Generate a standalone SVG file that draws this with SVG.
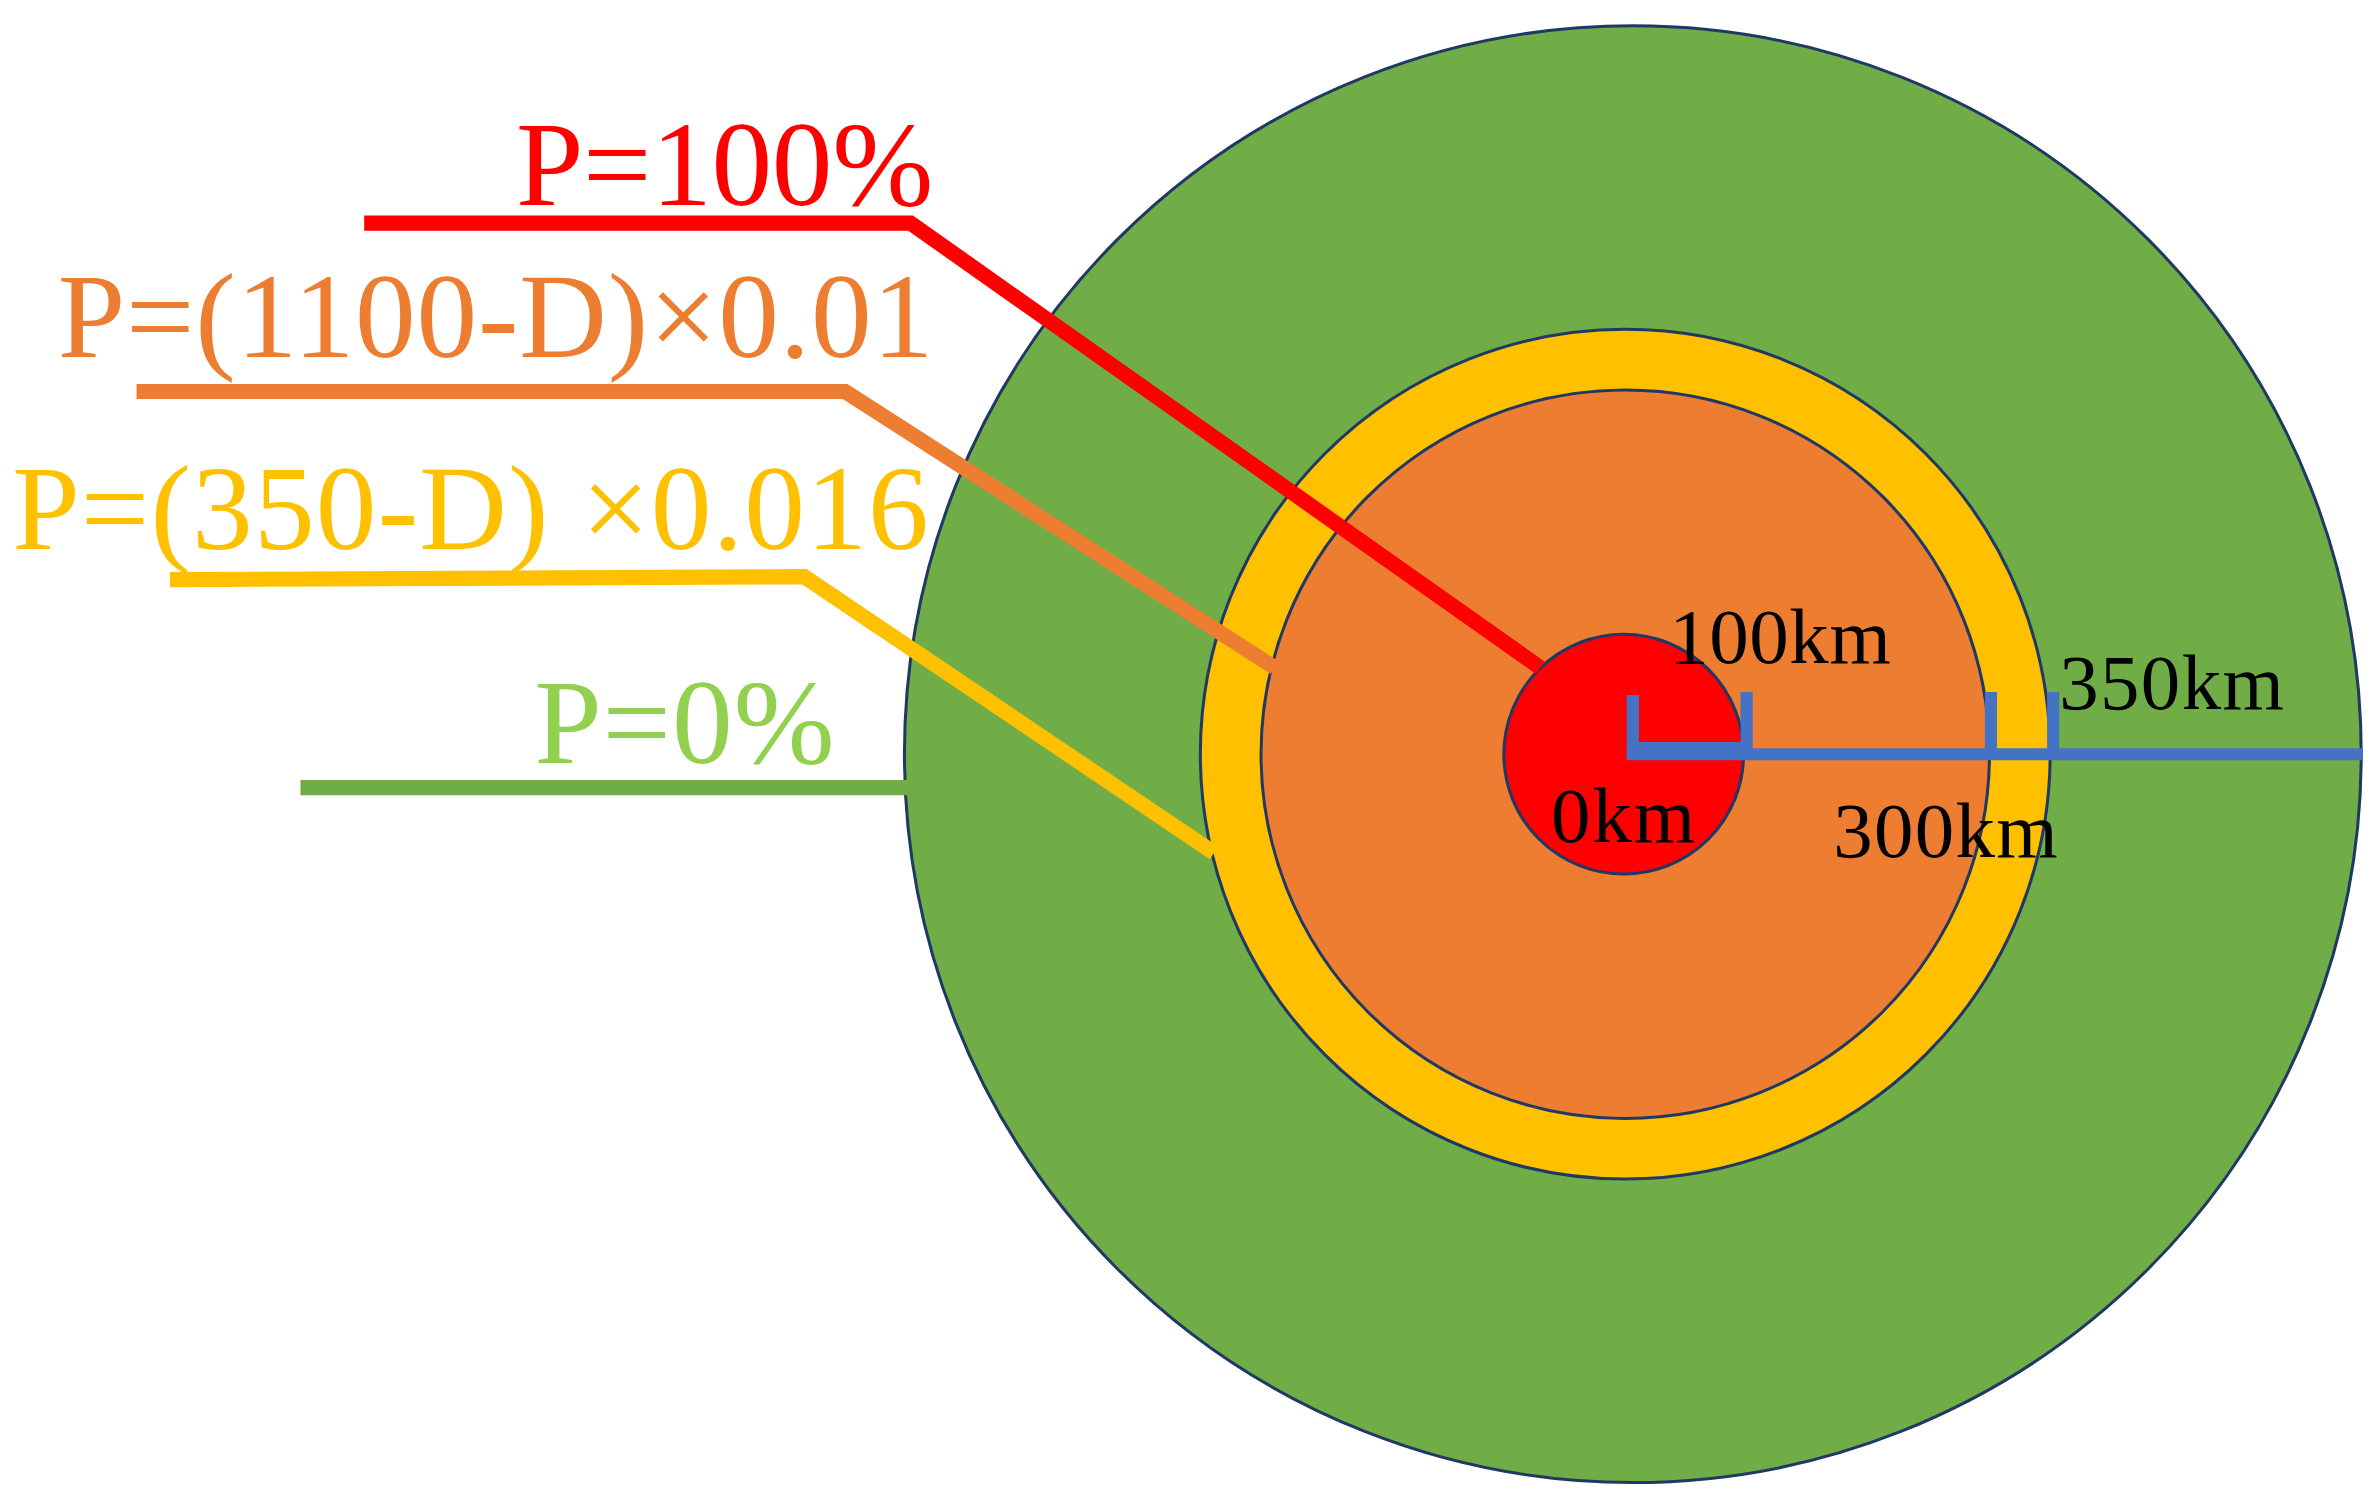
<svg xmlns="http://www.w3.org/2000/svg" width="2372" height="1507" viewBox="0 0 2372 1507">
<style>
.ring{stroke:#203864;stroke-width:2}
.lead{fill:none;stroke-width:10;stroke-linejoin:miter}
.big{font-family:"Liberation Serif",serif;font-size:80px}
.km{font-family:"Liberation Serif",serif;font-size:52px;fill:#000}
</style>
<rect width="2372" height="1507" fill="#fff"/>
<g transform="scale(1.5175)">
<g id="zone-green"><circle class="ring" cx="1076" cy="497" r="480" fill="#70AD47"/></g>
<g id="zone-yellow"><circle class="ring" cx="1071" cy="497" r="280" fill="#FFC000"/></g>
<g id="zone-orange"><circle class="ring" cx="1071" cy="497" r="240" fill="#ED7D31"/></g>
<g id="zone-red"><circle class="ring" cx="1070" cy="497" r="79" fill="#FF0000"/></g>
<g id="connectors">
<polyline class="lead" stroke="#FF0000" points="240,147 600,147 1015,440"/>
<polyline class="lead" stroke="#ED7D31" points="90,258 557,258 840,440"/>
<polyline class="lead" stroke="#FFC000" points="112,382 530,380 800,562"/>
<polyline class="lead" stroke="#70AD47" points="198,519 598,519"/>
<g fill="none" stroke="#4472C4" stroke-width="8">
<line x1="1072" y1="497" x2="1557" y2="497"/>
<polyline points="1076,458 1076,493 1151,493 1151,456"/>
<line x1="1312" y1="456" x2="1312" y2="494"/>
<line x1="1353" y1="456" x2="1353" y2="494"/>
</g>
</g>
<g id="label-red"><text class="big" x="340" y="135" fill="#FF0000" textLength="275">P=100%</text></g>
<g id="label-orange"><text class="big" x="38" y="235" fill="#ED7D31" textLength="577">P=(1100-D)×0.01</text></g>
<g id="label-yellow"><text class="big" x="8" y="362" fill="#FFC000" textLength="604" xml:space="preserve">P=(350-D) ×0.016</text></g>
<g id="label-green"><text class="big" x="352" y="503" fill="#92D050" textLength="198">P=0%</text></g>
<g id="km-labels">
<text class="km" x="1100" y="437" textLength="146">100km</text>
<text class="km" x="1357" y="467" textLength="148">350km</text>
<text class="km" x="1022" y="555" textLength="95">0km</text>
<text class="km" x="1208" y="565" textLength="148">300km</text>
</g>
</g>
</svg>
